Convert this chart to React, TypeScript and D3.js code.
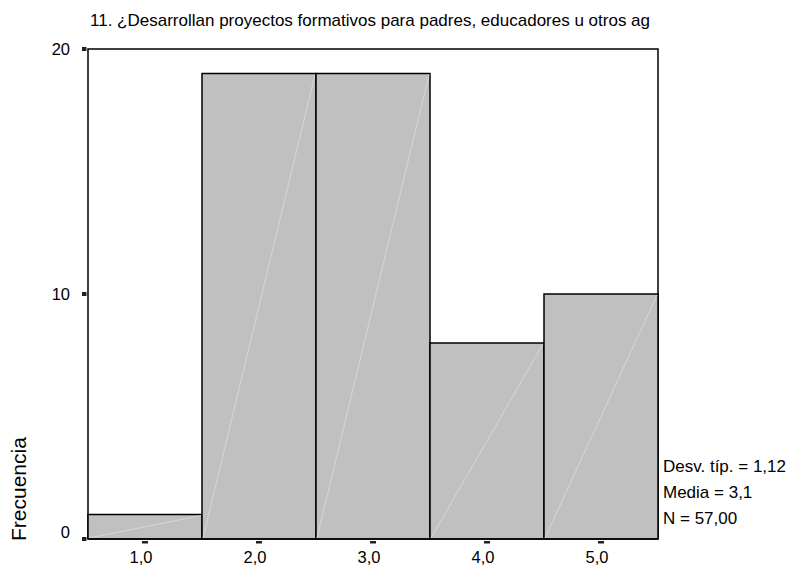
import React from "react";
import * as d3 from "d3";

const categories = ["1,0", "2,0", "3,0", "4,0", "5,0"];
const frequencies = [1, 19, 19, 8, 10];
const yTicks = [0, 10, 20];
const title = "11. ¿Desarrollan proyectos formativos para padres, educadores u otros ag";
const stats = ["Desv. típ. = 1,12", "Media = 3,1", "N = 57,00"];

export default function App() {
  const W = 790, H = 567;
  const left = 88, right = 658, top = 49, bottom = 539;
  const x = d3.scaleBand<string>().domain(categories).range([left, right]).padding(0);
  const y = d3.scaleLinear().domain([0, 20]).range([bottom, top]);
  const font = "'Liberation Sans', Arial, sans-serif";
  return (
    <svg width={W} height={H} style={{ position: "absolute", left: 0, top: 0 }} fontFamily={font}>
      <rect x={0} y={0} width={W} height={H} fill="#fff" />
      <text x={90} y={26} fontSize={17} fill="#000">{title}</text>
      {/* frame */}
      <path d={`M${left},${bottom} V${top} H${right} V${bottom}`} fill="none" stroke="#000" strokeWidth={1.5} />
      {categories.map((c, i) => {
        const x0 = x(c)!;
        const w = x.bandwidth();
        const y0 = y(frequencies[i]);
        return (
          <g key={c}>
            <rect x={x0} y={y0} width={w} height={bottom - y0} fill="#c0c0c0" stroke="#000" strokeWidth={1.5} />
            <line x1={x0 + 1} y1={bottom - 1} x2={x0 + w - 1} y2={y0 + 1} stroke="#dcdcdc" strokeWidth={0.8} />
          </g>
        );
      })}
      <line x1={left} x2={right} y1={bottom} y2={bottom} stroke="#000" strokeWidth={1.5} />
      {yTicks.map((t) => (
        <g key={t}>
          <rect x={left - 6} y={y(t) - 2} width={4.5} height={4} fill="#222" />
          <text x={70} y={t === 0 ? 538 : y(t)} dy={t === 0 ? "0" : "0.35em"} textAnchor="end" fontSize={16.5}>{t}</text>
        </g>
      ))}
      {categories.map((c) => {
        const cx = x(c)! + x.bandwidth() / 2;
        return (
          <g key={"t" + c}>
            <rect x={cx - 3} y={bottom + 2} width={6} height={2.5} fill="#222" />
            <text x={cx - 4} y={563} textAnchor="middle" fontSize={16.5}>{c}</text>
          </g>
        );
      })}
      <text transform={`translate(26,541) rotate(-90)`} textAnchor="start" fontSize={21}>Frecuencia</text>
      {stats.map((s, i) => (
        <text key={s} x={663} y={472 + i * 26} fontSize={17}>{s}</text>
      ))}
    </svg>
  );
}
